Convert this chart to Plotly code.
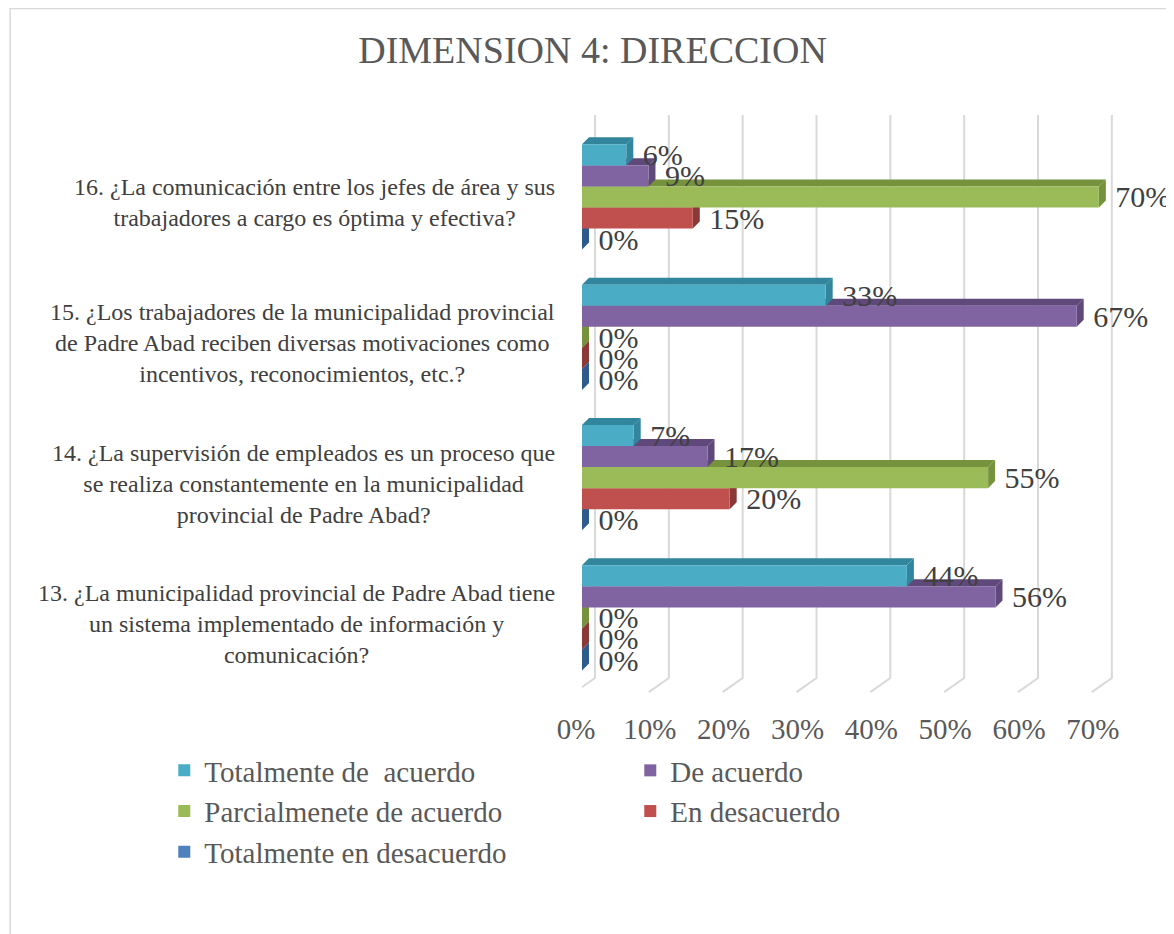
import plotly.graph_objects as go

# categorias (de abajo hacia arriba)
preguntas = [
    "13. ¿La municipalidad provincial de Padre Abad tiene<br>un sistema implementado de información y<br>comunicación?",
    "14. ¿La supervisión de empleados es un proceso que<br>se realiza constantemente en la municipalidad<br>provincial de Padre Abad?",
    "15. ¿Los trabajadores de la municipalidad provincial<br>de Padre Abad reciben diversas motivaciones como<br>incentivos, reconocimientos, etc.?",
    "16. ¿La comunicación entre los jefes de área y sus<br>trabajadores a cargo es óptima y efectiva?",
]
totalmente_de_acuerdo = [44, 7, 33, 6]
de_acuerdo = [56, 17, 67, 9]
parcialmente_de_acuerdo = [0, 55, 0, 70]
en_desacuerdo = [0, 20, 0, 15]
totalmente_en_desacuerdo = [0, 0, 0, 0]
ticks = [0, 10, 20, 30, 40, 50, 60, 70]

FONT = "Liberation Serif"
PAD = "\u00a0\u2009"  # separa la etiqueta de la cara lateral

# orden de dibujo: barra inferior primero
series = [
    ("Totalmente en desacuerdo", totalmente_en_desacuerdo, "#4F81BD", "#2F5A8C", 5),
    ("En desacuerdo", en_desacuerdo, "#C0504D", "#8C3836", 4),
    ("Parcialmenete de acuerdo", parcialmente_de_acuerdo, "#9BBB59", "#76923C", 3),
    ("De acuerdo", de_acuerdo, "#8064A2", "#5F497A", 2),
    ("Totalmente de  acuerdo", totalmente_de_acuerdo, "#4BACC6", "#31859C", 1),
]

bargap = 0.25
pos = list(range(len(preguntas)))
w = (1 - bargap) / len(series)
dx, dy = 0.95, 0.05      # profundidad de la barra (efecto 3D)
gx_back, gx_front = 1.76, 0.95  # desplazamiento de la rejilla
xmax = 73                # deja sitio a la cara lateral y a la rejilla del 70%

fig = go.Figure()
shapes = []

# rejilla en perspectiva
for v in ticks:
    shapes.append(dict(
        type="path", xref="x", yref="paper", layer="below",
        path=f"M{v + gx_back},1 L{v + gx_back},0 L{v - gx_front},-0.025",
        line=dict(color="#D9D9D9", width=2),
    ))

for j, (name, vals, color, dark, rank) in enumerate(series):
    fig.add_trace(go.Bar(
        y=pos, x=vals, orientation="h", name=name, legendrank=rank,
        marker=dict(color=color, line=dict(width=0)),
        text=[f"{PAD}{v}%" for v in vals], textposition="outside",
        cliponaxis=False, constraintext="none",
        textfont=dict(family=FONT, size=30, color="#404040"),
        hoverinfo="skip",
    ))
    for i, v in zip(pos, vals):
        c = i - (1 - bargap) / 2 + (j + 0.5) * w
        lo, hi = c - w / 2, c + w / 2
        # cara superior
        shapes.append(dict(
            type="path", xref="x", yref="y", layer="between",
            path=f"M0,{hi} L{v},{hi} L{v + dx},{hi + dy} L{dx},{hi + dy} Z",
            fillcolor=dark, line=dict(width=0),
        ))
        # cara lateral
        shapes.append(dict(
            type="path", xref="x", yref="y", layer="between",
            path=f"M{v},{lo} L{v},{hi} L{v + dx},{hi + dy} L{v + dx},{lo + dy} Z",
            fillcolor=dark, line=dict(width=0),
        ))

# marco del grafico
shapes.append(dict(
    type="rect", xref="paper", yref="paper", layer="below",
    x0=-1.061, x1=2, y0=-2, y1=1.189,
    line=dict(color="#D9D9D9", width=1.5), fillcolor="rgba(0,0,0,0)",
))

annotations = []
for i, q in zip(pos, preguntas):
    annotations.append(dict(
        x=0, xref="paper", y=i, yref="y", text=q, showarrow=False,
        xanchor="right", xshift=-25, yshift=-6, align="center",
        font=dict(family=FONT, size=24, color="#404040"),
    ))

fig.update_layout(
    width=1174, height=934,
    margin=dict(l=574, r=61, t=107, b=264),
    paper_bgcolor="white", plot_bgcolor="white",
    barmode="group", bargap=bargap, bargroupgap=0,
    title=dict(text="DIMENSION 4: DIRECCION", x=0.4979, y=0.9551,
               xanchor="center", yanchor="middle",
               font=dict(family=FONT, size=38, color="#595959")),
    xaxis=dict(range=[0, xmax], tickvals=ticks, ticktext=[f"{t}%" for t in ticks],
               showgrid=False, zeroline=False, showline=False,
               ticklabelshift=-6, ticklabelstandoff=31,
               tickfont=dict(family=FONT, size=29, color="#595959")),
    yaxis=dict(range=[-0.428, 3.584], showticklabels=False, showgrid=False,
               zeroline=False, showline=False),
    legend=dict(orientation="h", x=-0.775, xanchor="left", y=-0.119, yanchor="top",
                entrywidth=421, entrywidthmode="pixels", itemwidth=30,
                traceorder="normal",
                font=dict(family=FONT, size=29, color="#595959")),
    shapes=shapes, annotations=annotations,
)

fig.write_html("out.html")
